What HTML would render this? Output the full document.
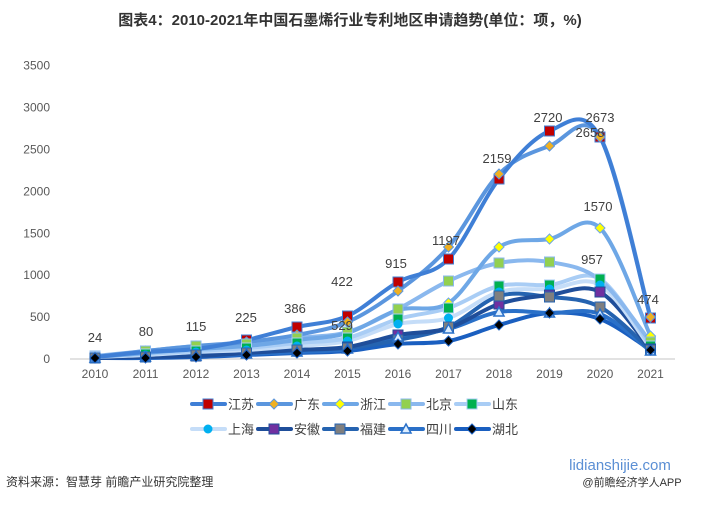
<!DOCTYPE html><html><head><meta charset="utf-8"><style>body{margin:0;background:#fff;width:701px;height:501px;overflow:hidden;font-family:"Liberation Sans","Noto Sans CJK SC",sans-serif}</style></head><body>
<svg id="s" width="701" height="501" xmlns="http://www.w3.org/2000/svg" font-family="Liberation Sans, Noto Sans CJK SC, sans-serif">
<text x="350" y="25" text-anchor="middle" font-size="15" font-weight="bold" fill="#333">图表4：2010-2021年中国石墨烯行业专利地区申请趋势(单位：项，%)</text>
<line x1="70" y1="359" x2="675" y2="359" stroke="#d9d9d9" stroke-width="1.5"/>
<g id="yl" font-size="12" fill="#595959" text-anchor="end"></g>
<g id="xl" font-size="12" fill="#595959" text-anchor="middle"></g>
<g id="lines"></g><g id="marks"></g>
<g font-size="13" fill="#404040" text-anchor="middle">
<text x="95" y="342">24</text><text x="146" y="336">80</text><text x="196" y="331">115</text><text x="246" y="322">225</text><text x="295" y="313">386</text><text x="342" y="286">422</text><text x="342" y="330">529</text><text x="396" y="268">915</text><text x="446" y="245">1197</text><text x="497" y="163">2159</text><text x="548" y="122">2720</text><text x="600" y="122">2673</text><text x="590" y="137">2658</text><text x="598" y="211">1570</text><text x="592" y="264">957</text><text x="648" y="304">474</text>
</g>
<g id="leg" font-size="13" fill="#404040"></g>
<text x="6" y="486" font-size="12" fill="#333">资料来源：智慧芽 前瞻产业研究院整理</text>
<text x="620" y="470" font-size="15" fill="#5b8fd4" text-anchor="middle">lidianshijie.com</text>
<text x="632" y="486" font-size="11" fill="#333" text-anchor="middle">@前瞻经济学人APP</text>
</svg>
<script>
var N='http://www.w3.org/2000/svg';function el(p,t,a,tx){var e=document.createElementNS(N,t);for(var k in a)e.setAttribute(k,a[k]);if(tx)e.textContent=tx;document.getElementById(p).appendChild(e);return e;}
for(var i=0;i<=7;i++)el('yl','text',{x:50,y:363-i*41.9},String(i*500));
var X=[];for(i=0;i<12;i++){X.push(95+i*50.5);el('xl','text',{x:95+i*50.5,y:378},String(2010+i));}
var S=[
['江苏','#3f7fd6','sq','#c00000',[357,352,349,340,327,316,282,259,179,131,137,318]],
['广东','#5b96de','di','#f0b020',[357,351,346,342,335,322,291,247,174,146,137,317]],
['浙江','#6ea7e6','di','#ffff00',[357,353,349,346,340,333,310,303,247,239,228,336]],
['北京','#8ab8ee','sq','#92d050',[356,351,346,344,338,332,309,281,263,262,280,342]],
['山东','#a9cdf5','sq','#00b050',[357,354,351,348,343,338,319,308,286,285,279,346]],
['上海','#c5ddf8','ci','#00b0f0',[357,355,352,350,346,341,324,318,292,289,285,348]],
['安徽','#1f4e9a','sq','#7030a0',[358,357,356,353,350,347,335,328,304,295,292,349]],
['福建','#2563b0','sq','#7f7f7f',[358,357,355,353,350,348,340,327,296,297,307,350]],
['四川','#2a70c8','tr','#ddeeff',[358,357,356,354,352,349,337,329,312,313,314,351]],
['湖北','#1a5fc0','di','#000000',[358,358,357,355,353,351,344,341,325,313,319,350]]];
function path(Y){var d='M'+X[0]+','+Y[0];for(var i=0;i<11;i++){var p0=[X[Math.max(i-1,0)],Y[Math.max(i-1,0)]],p1=[X[i],Y[i]],p2=[X[i+1],Y[i+1]],p3=[X[Math.min(i+2,11)],Y[Math.min(i+2,11)]];var t=6;d+=' C'+(p1[0]+(p2[0]-p0[0])/t)+','+(p1[1]+(p2[1]-p0[1])/t)+' '+(p2[0]-(p3[0]-p1[0])/t)+','+(p2[1]-(p3[1]-p1[1])/t)+' '+p2[0]+','+p2[1];}return d;}
function mk(g,t,x,y,c,lc){if(t=='sq')el(g,'rect',{x:x-5,y:y-5,width:10,height:10,fill:c,stroke:lc});else if(t=='di')el(g,'polygon',{points:(x)+','+(y-5)+' '+(x+5)+','+y+' '+x+','+(y+5)+' '+(x-5)+','+y,fill:c,stroke:lc});else if(t=='ci')el(g,'circle',{cx:x,cy:y,r:4.5,fill:c});else el(g,'polygon',{points:x+','+(y-5)+' '+(x+5)+','+(y+4)+' '+(x-5)+','+(y+4),fill:c,stroke:lc,'stroke-width':1.5});}
S.slice().reverse().forEach(function(s){el('lines','path',{d:path(s[4]),fill:'none',stroke:s[1],'stroke-width':4,'stroke-linecap':'round'});});
S.forEach(function(s){s[4].forEach(function(y,i){mk('marks',s[2],X[i],y,s[3],s[1]);});});
S.forEach(function(s,i){var x=192+(i%5)*66,y=i<5?404:429;el('leg','line',{x1:x,y1:y,x2:x+33,y2:y,stroke:s[1],'stroke-width':4,'stroke-linecap':'round'});mk('leg',s[2],x+16,y,s[3],s[1]);el('leg','text',{x:x+36,y:y+5},s[0]);});
</script></body></html>
